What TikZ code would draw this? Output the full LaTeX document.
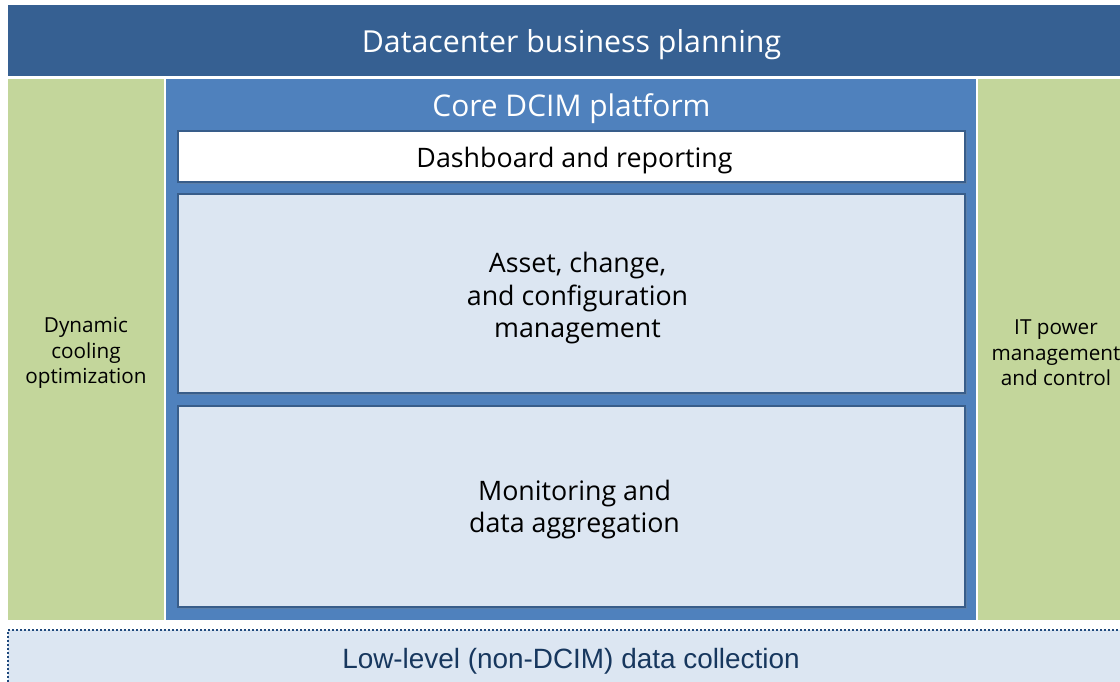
\documentclass[tikz,border=0pt]{standalone}
\usepackage{fontspec}
\setmainfont{Open Sans}
\newfontfamily\lowfont{Liberation Sans}
\usetikzlibrary{calc,shadows}

\definecolor{planblue}{HTML}{366092}
\definecolor{coreblue}{HTML}{4F81BD}
\definecolor{sidegreen}{HTML}{C3D69B}
\definecolor{paleblue}{HTML}{DCE6F2}
\definecolor{edgeblue}{HTML}{385D8A}
\definecolor{dotblue}{HTML}{1F497D}
\definecolor{lowtext}{HTML}{17375E}

\tikzset{
  band/.style={rectangle, inner sep=0pt},
  inbox/.style={band, draw=edgeblue, line width=1.2pt,
    drop shadow={opacity=0.3, shadow xshift=2pt, shadow yshift=-2pt}},
  sidetext/.style={align=center, font=\fontsize{20.7}{25.5}\selectfont},
  boxtext/.style={align=center, font=\fontsize{26.8}{32.5}\selectfont}
}

\begin{document}
\begin{tikzpicture}[x=1pt, y=-1pt]
\useasboundingbox (0,0) rectangle (1120,682);
\clip (0,0) rectangle (1120,682);
\fill[white] (0,0) rectangle (1120,682);

% Top band
\node[band, fill=planblue, minimum width=1126pt, minimum height=71pt] (planning) at (571,40.5) {};
\node[text=white, font=\fontsize{30.3}{36}\selectfont] (planningtext) at (571.5,44.5) {Datacenter business planning};

% Side columns
\node[band, fill=sidegreen, minimum width=156pt, minimum height=541pt] (cooling) at (86,349.5) {};
\node[sidetext] (coolingtext) at (86,353) {Dynamic\\cooling\\optimization};
\node[band, fill=sidegreen, minimum width=156pt, minimum height=541pt] (power) at (1056,349.5) {};
\node[sidetext] (powertext) at (1056,353) {IT power\\management\\and control};

% Core platform
\node[band, fill=coreblue, minimum width=810pt, minimum height=541pt] (core) at (571,349.5) {};
\node[text=white, font=\fontsize{29.9}{34}\selectfont] (coretitle) at (571.5,109) {Core DCIM platform};

% Inner boxes
\node[inbox, fill=white, minimum width=787pt, minimum height=51pt] (dashboard) at (571.5,156.5) {};
\node[boxtext] (dashtext) at (574.5,160.5) {Dashboard and reporting};
\node[inbox, fill=paleblue, minimum width=787pt, minimum height=199pt] (asset) at (571.5,293.5) {};
\node[boxtext] (assettext) at (577.5,298.5) {Asset, change,\\and configuration\\management};
\node[inbox, fill=paleblue, minimum width=787pt, minimum height=201pt] (monitoring) at (571.5,506.5) {};
\node[boxtext] (monitext) at (574.5,509.5) {Monitoring and\\data aggregation};

% Low-level band
\node[band, draw=dotblue, dash pattern=on 2pt off 2pt, line width=2pt, fill=paleblue,
  minimum width=1126pt, minimum height=62pt] (lowlevel) at (571,661) {};
\node[text=lowtext, font=\lowfont\fontsize{27.9}{32}\selectfont] (lowtxt) at (571,661) {Low-level (non-DCIM) data collection};
\end{tikzpicture}
\end{document}
